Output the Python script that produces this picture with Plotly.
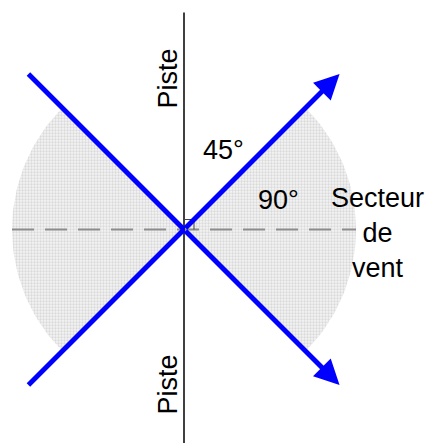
import numpy as np
import plotly.graph_objects as go

# ---- diagram data (centre of the diagram = origin, units = pixels) ----
runway_angles = [45, 135, 225, 315]        # directions of the two blue axes (deg)
arrow_angles = [45, 315]                   # which ends carry an arrowhead
ray_length = [220, 220, 220, 220]
sector_mid = [0, 180]                      # wind sector directions (deg)
sector_half = [45, 45]                     # half-opening (deg) -> 90°
sector_radius = [172, 172]
runway_top = 217
runway_bottom = -215
square_size = 10

label_text = ["Piste", "Piste", "45°", "90°", "Secteur<br>de<br>vent"]
label_x = [-17, -17, 39, 94, 193]
label_y = [151, -155, 80, 30, -3]
label_angle = [-90, -90, 0, 0, 0]

fig = go.Figure()

# shaded wind sectors
for mid, half, r in zip(sector_mid, sector_half, sector_radius):
    a = np.radians(np.linspace(mid - half, mid + half, 60))
    xs = np.concatenate([[0], r * np.cos(a), [0]])
    ys = np.concatenate([[0], r * np.sin(a), [0]])
    fig.add_trace(go.Scatter(
        x=xs, y=ys, mode="lines", fill="toself",
        line=dict(width=0, color="rgba(0,0,0,0)"),
        fillcolor="#f3f3f3",
        fillpattern=dict(shape=".", size=3, solidity=0.45,
                         fgcolor="#bdbdbd", bgcolor="#f4f4f4"),
        hoverinfo="skip", showlegend=False))

# dashed wind-axis line
R = sector_radius[0]
fig.add_trace(go.Scatter(x=[-R, R], y=[0, 0], mode="lines",
                         line=dict(color="#8c8c8c", width=2, dash="22px,11px"),
                         hoverinfo="skip", showlegend=False))

# vertical runway line
fig.add_trace(go.Scatter(x=[0, 0], y=[runway_bottom, runway_top], mode="lines",
                         line=dict(color="black", width=1.5),
                         hoverinfo="skip", showlegend=False))

# right-angle marker
s = square_size
fig.add_trace(go.Scatter(x=[0, s, s], y=[s, s, 0], mode="lines",
                         line=dict(color="#444", width=1),
                         hoverinfo="skip", showlegend=False))

# blue axes without arrowheads
for ang, L in zip(runway_angles, ray_length):
    if ang in arrow_angles:
        continue
    t = np.radians(ang)
    fig.add_trace(go.Scatter(x=[0, L * np.cos(t)], y=[0, L * np.sin(t)],
                             mode="lines", line=dict(color="#0000ff", width=5),
                             hoverinfo="skip", showlegend=False))

# blue axes with arrowheads
for ang, L in zip(runway_angles, ray_length):
    if ang not in arrow_angles:
        continue
    t = np.radians(ang)
    fig.add_annotation(x=L * np.cos(t), y=L * np.sin(t), ax=0, ay=0,
                       xref="x", yref="y", axref="x", ayref="y",
                       text="", showarrow=True, arrowhead=2, arrowsize=1,
                       arrowwidth=5, arrowcolor="#0000ff", standoff=0)

for txt, x, y, rot in zip(label_text, label_x, label_y, label_angle):
    fig.add_annotation(x=x, y=y, xref="x", yref="y", text=txt, showarrow=False,
                       textangle=rot, xanchor="center", yanchor="middle",
                       font=dict(family="Liberation Sans, Arial", size=27,
                                 color="black"))

fig.update_xaxes(range=[-184, 247], visible=False, fixedrange=True)
fig.update_yaxes(range=[-213.5, 229.5], visible=False, fixedrange=True)
fig.update_layout(width=431, height=443, margin=dict(l=0, r=0, t=0, b=0),
                  plot_bgcolor="white", paper_bgcolor="white",
                  showlegend=False)

fig.write_html("out.html", config={"displayModeBar": False},
               post_script="document.body.style.margin='0';"
                           "document.body.style.overflow='hidden';")
